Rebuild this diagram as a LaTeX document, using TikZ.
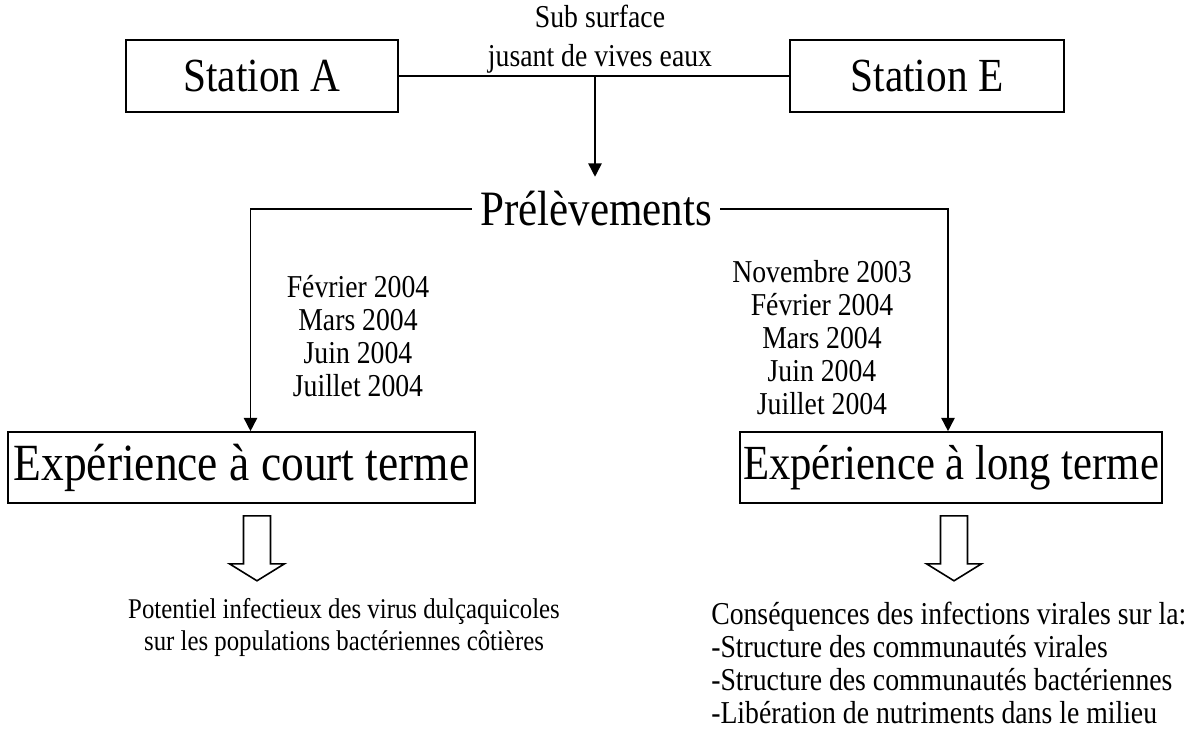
\documentclass[tikz,border=0pt]{standalone}
\usepackage{fontspec}
\setmainfont{Liberation Serif}
\newfontfamily\cond[FakeStretch=0.87]{Liberation Serif}
\usetikzlibrary{arrows.meta}
\begin{document}
\begin{tikzpicture}[x=0.75pt,y=-0.75pt,
  box/.style={draw,line width=1.2pt,inner sep=0pt,align=center},
  conn/.style={line width=1.2pt},
  arr/.style={conn,-{Triangle[length=10pt,width=10pt]}},
  bigA/.style={font=\cond\fontsize{35.6}{42}\selectfont},
  bigP/.style={font=\cond\fontsize{37.1}{44}\selectfont},
  bigC/.style={font=\cond\fontsize{39.2}{44}\selectfont},
  bigL/.style={font=\cond\fontsize{36.8}{44}\selectfont},
  small/.style={font=\cond\fontsize{23.9}{24.75}\selectfont},
  hollowdown/.pic={\draw[line width=1.2pt,fill=white] (-13.5,0) -- (13.5,0) -- (13.5,48) -- (27.5,48) -- (0,65) -- (-27.5,48) -- (-13.5,48) -- cycle;}
]
\useasboundingbox (0,0) rectangle (1202,731);
\node[box,bigA,minimum width=204pt,minimum height=54pt] (A) at (262,76) {Station A};
\node[box,bigA,minimum width=205.5pt,minimum height=54pt] (E) at (927,76) {Station E};
\draw[conn] (A.east) -- (E.west);
\coordinate (J) at (595,76);
\node[align=center,font=\cond\fontsize{23.9}{29.25}\selectfont] (sub) at (600,39) {Sub surface\\jusant de vives eaux};
\node[bigP,minimum height=48pt,inner xsep=6pt,inner ysep=0pt] (P) at (596,209) {Prélèvements};
\draw[arr] (J) -- (J |- P.north);
\node[box,bigC,minimum width=350pt,minimum height=53.25pt] (C) at (241.5,467.5) {Expérience à court terme};
\node[box,bigL,minimum width=316.5pt,minimum height=53.25pt] (L) at (951,467.5) {Expérience à long terme};
\draw[arr] (P.west) -| ([xshift=6.75pt]C.north);
\draw[arr] (P.east) -| ([xshift=-2.25pt]L.north);
\node[small,align=center] (D1) at (358,336.5) {Février 2004\\Mars 2004\\Juin 2004\\Juillet 2004};
\node[small,align=center] (D2) at (822,338) {Novembre 2003\\Février 2004\\Mars 2004\\Juin 2004\\Juillet 2004};
\pic at ([xshift=11.6pt,yshift=-9pt]C.south) {hollowdown};
\pic at ([xshift=2.25pt,yshift=-9pt]L.south) {hollowdown};
\node[align=center,font=\cond\fontsize{21.4}{24}\selectfont] (T1) at (344,627) {Potentiel infectieux des virus dulçaquicoles\\sur les populations bactériennes côtières};
\node[small,align=left,anchor=west,inner sep=0pt] (T2) at (711,662.5) {Conséquences des infections virales sur la:\\-Structure des communautés virales\\-Structure des communautés bactériennes\\-Libération de nutriments dans le milieu};
\end{tikzpicture}
\end{document}
